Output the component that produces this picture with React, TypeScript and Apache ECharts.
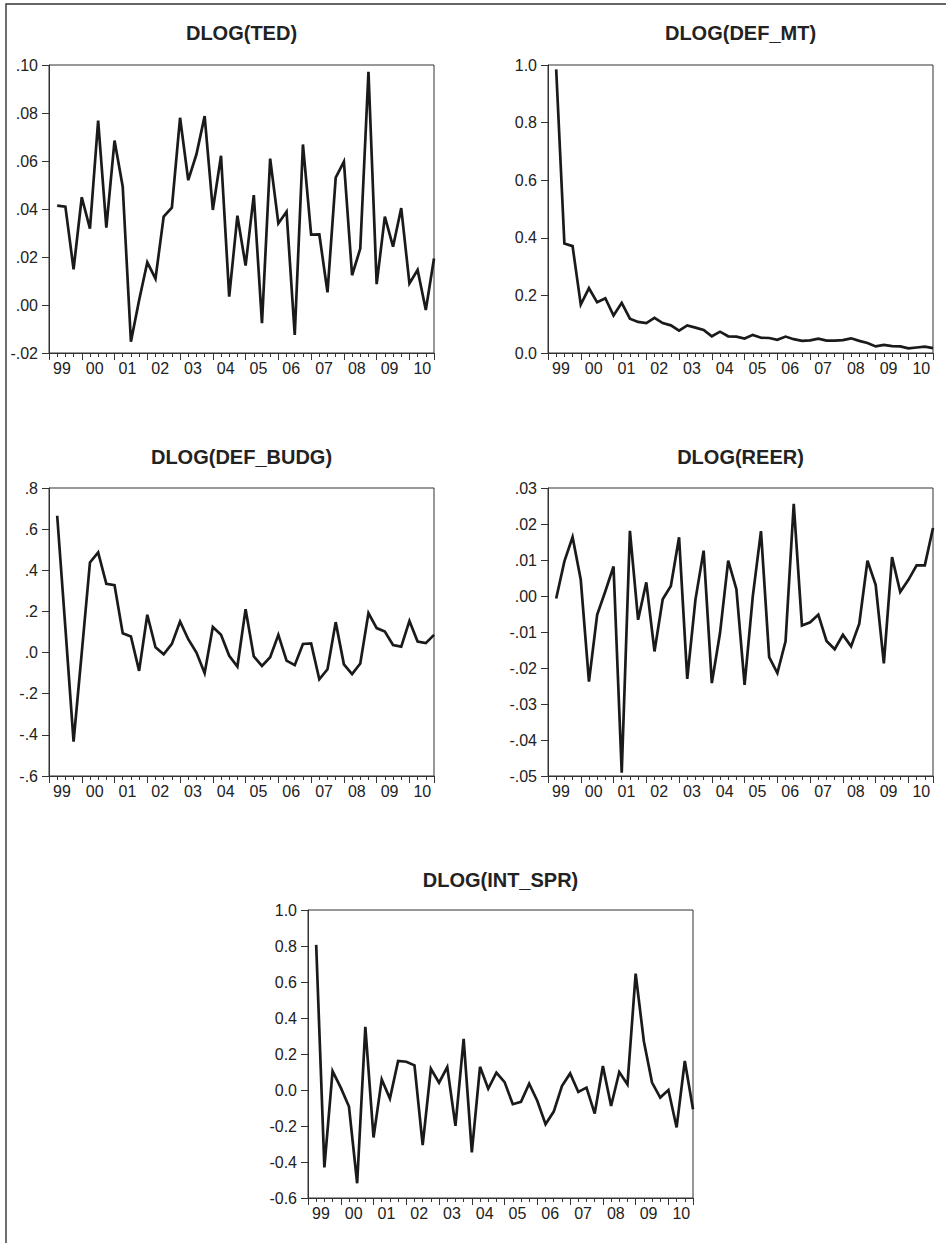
import React, { useEffect, useRef } from "react";
import * as echarts from "echarts";

// Quarterly observations 1999Q2 .. 2010Q4 (x = quarters since 1999Q1)
const YEAR_LABELS = ["99", "00", "01", "02", "03", "04", "05", "06", "07", "08", "09", "10"];

const TED = [
  0.0414, 0.041, 0.0149, 0.0449, 0.0318, 0.0768, 0.0322, 0.0685, 0.0493, -0.0153,
  0.002, 0.0178, 0.011, 0.0368, 0.0406, 0.078, 0.052, 0.0628, 0.0787, 0.0396,
  0.0622, 0.0035, 0.0372, 0.0164, 0.0458, -0.0076, 0.061, 0.034, 0.0389, -0.0125,
  0.0669, 0.0293, 0.0294, 0.0053, 0.0531, 0.0597, 0.0124, 0.0235, 0.0972, 0.0087,
  0.0368, 0.0243, 0.0404, 0.009, 0.0146, -0.0021, 0.0194,
];

const DEF_MT = [
  0.985, 0.38, 0.371, 0.168, 0.225, 0.176, 0.19, 0.13, 0.174, 0.119,
  0.108, 0.104, 0.122, 0.104, 0.096, 0.078, 0.096, 0.088, 0.08, 0.058,
  0.074, 0.058, 0.057, 0.05, 0.063, 0.053, 0.052, 0.046, 0.057, 0.048,
  0.042, 0.044, 0.05, 0.043, 0.043, 0.045, 0.051, 0.042, 0.035, 0.023,
  0.028, 0.024, 0.023, 0.016, 0.019, 0.022, 0.017,
];

const DEF_BUDG = [
  0.665, 0.12, -0.433, 0.0, 0.438, 0.487, 0.334, 0.328, 0.094, 0.078,
  -0.089, 0.184, 0.026, -0.008, 0.042, 0.151, 0.065, 0.0, -0.1, 0.124,
  0.086, -0.016, -0.068, 0.211, -0.019, -0.065, -0.023, 0.086, -0.039, -0.061,
  0.042, 0.044, -0.13, -0.081, 0.148, -0.057, -0.105, -0.053, 0.192, 0.119,
  0.102, 0.037, 0.029, 0.154, 0.054, 0.046, 0.086,
];

const REER = [
  -0.0007, 0.0096, 0.0164, 0.0045, -0.0238, -0.0052, 0.0013, 0.0082, -0.0491, 0.0181,
  -0.0066, 0.0038, -0.0154, -0.0009, 0.0028, 0.0163, -0.023, -0.001, 0.0126, -0.0242,
  -0.0103, 0.0098, 0.0019, -0.0247, -0.0001, 0.018, -0.017, -0.0214, -0.0126, 0.0256,
  -0.0082, -0.0073, -0.0052, -0.0125, -0.0148, -0.0108, -0.014, -0.0077, 0.0098, 0.0031,
  -0.0187, 0.0108, 0.0011, 0.0045, 0.0085, 0.0085, 0.0189,
];

const INT_SPR = [
  0.806, -0.43, 0.105, 0.013, -0.092, -0.518, 0.351, -0.264, 0.059, -0.048,
  0.161, 0.157, 0.137, -0.306, 0.118, 0.041, 0.127, -0.199, 0.284, -0.347,
  0.129, 0.007, 0.096, 0.044, -0.079, -0.066, 0.035, -0.061, -0.19, -0.12,
  0.022, 0.092, -0.011, 0.013, -0.131, 0.133, -0.089, 0.1, 0.031, 0.646,
  0.271, 0.041, -0.042, 0.0, -0.208, 0.161, -0.107,
];

const TITLES = ["DLOG(TED)", "DLOG(DEF_MT)", "DLOG(DEF_BUDG)", "DLOG(REER)", "DLOG(INT_SPR)"];
const SERIES = [TED, DEF_MT, DEF_BUDG, REER, INT_SPR];

// y-axis scales: [min, max, interval, decimals, stripLeadingZero]
const Y_SCALES: [number, number, number, number, boolean][] = [
  [-0.02, 0.1, 0.02, 2, true],
  [0, 1.0, 0.2, 1, false],
  [-0.6, 0.8, 0.2, 1, true],
  [-0.05, 0.03, 0.01, 2, true],
  [-0.6, 1.0, 0.2, 1, false],
];

// layout (pixels)
const GRIDS = [
  { left: 49, top: 65, tx: 241.5, ty: 33 },
  { left: 548, top: 65, tx: 740.5, ty: 33 },
  { left: 49, top: 488, tx: 241.5, ty: 457 },
  { left: 548, top: 488, tx: 740.5, ty: 457 },
  { left: 308, top: 910, tx: 500.5, ty: 880 },
];
const GW = 385;
const GH = 288;
const FONT = "'Liberation Sans', Arial, Helvetica, sans-serif";
const AXIS_COLOR = "#333";
const TEXT_COLOR = "#222";

function fmtY(raw: any, dec: number, strip: boolean, iv: number) {
  const v = Number(raw);
  let s = Math.abs(v) < iv / 10 ? (0).toFixed(dec) : v.toFixed(dec);
  if (strip) {
    if (s.startsWith("-0.")) s = "-" + s.slice(2);
    else if (s.startsWith("0.")) s = s.slice(1);
  }
  return s;
}

export default function App() {
  const ref = useRef<HTMLDivElement>(null);

  useEffect(() => {
    if (!ref.current) return;
    const chart = echarts.init(ref.current, undefined, { renderer: "svg" });

    const grid: any[] = [];
    const xAxis: any[] = [];
    const yAxis: any[] = [];
    const series: any[] = [];
    const graphic: any[] = [];

    GRIDS.forEach((g, i) => {
      grid.push({
        left: g.left,
        top: g.top,
        width: GW,
        height: GH,
        show: true,
        borderColor: AXIS_COLOR,
        borderWidth: 1,
        backgroundColor: "transparent",
        containLabel: false,
        outerBoundsMode: "none",
      });
      // major ticks + year labels
      xAxis.push({
        type: "value",
        gridIndex: i,
        position: "bottom",
        min: 0,
        max: 47,
        interval: 4,
        axisLine: { show: true, onZero: false, lineStyle: { color: AXIS_COLOR, width: 1 } },
        axisTick: { show: true, length: 7, lineStyle: { color: AXIS_COLOR, width: 1 } },
        splitLine: { show: false },
        axisLabel: {
          show: true,
          margin: 7,
          align: "left",
          padding: [0, 0, 0, 4],
          color: TEXT_COLOR,
          fontFamily: FONT,
          fontSize: 16,
          showMinLabel: true,
          showMaxLabel: true,
          formatter: (v: number) => {
            const k = Math.round(Number(v));
            if (k % 4 === 0 && k / 4 < YEAR_LABELS.length) return YEAR_LABELS[k / 4];
            return "";
          },
        },
      });
      // minor (quarter) ticks
      xAxis.push({
        type: "value",
        gridIndex: i,
        position: "bottom",
        min: 0,
        max: 47,
        interval: 1,
        axisLine: { show: false, onZero: false },
        axisTick: { show: true, length: 4, lineStyle: { color: AXIS_COLOR, width: 1 } },
        splitLine: { show: false },
        axisLabel: { show: false },
      });
      const [mn, mx, iv, dec, strip] = Y_SCALES[i];
      yAxis.push({
        type: "value",
        gridIndex: i,
        min: mn,
        max: mx,
        interval: iv,
        axisLine: { show: true, onZero: false, lineStyle: { color: AXIS_COLOR, width: 1 } },
        axisTick: { show: true, length: 7, lineStyle: { color: AXIS_COLOR, width: 1 } },
        splitLine: { show: false },
        axisLabel: {
          margin: 11,
          color: TEXT_COLOR,
          fontFamily: FONT,
          fontSize: 16,
          formatter: (v: number) => fmtY(v, dec, strip, iv),
        },
      });
      series.push({
        type: "line",
        xAxisIndex: 2 * i,
        yAxisIndex: i,
        data: SERIES[i].map((v, k) => [k + 1, v]),
        showSymbol: false,
        symbol: "none",
        lineStyle: { color: "#1a1a1a", width: 2.7, join: "miter" },
        silent: true,
      });
      graphic.push({
        type: "text",
        x: g.tx,
        y: g.ty,
        style: {
          text: TITLES[i],
          fill: TEXT_COLOR,
          font: `bold 20px ${FONT}`,
          textAlign: "center",
          textVerticalAlign: "middle",
        },
      });
    });

    // outer frame (left and top edges visible)
    graphic.push({
      type: "rect",
      shape: { x: 6, y: 4, width: 960, height: 1260 },
      style: { fill: "none", stroke: "#333", lineWidth: 1.4 },
    });

    chart.setOption({
      animation: false,
      backgroundColor: "#ffffff",
      grid,
      xAxis,
      yAxis,
      series,
      graphic,
    });

    return () => chart.dispose();
  }, []);

  return (
    <div
      ref={ref}
      style={{ position: "absolute", left: 0, top: 0, width: 946, height: 1243, background: "#fff" }}
    />
  );
}
